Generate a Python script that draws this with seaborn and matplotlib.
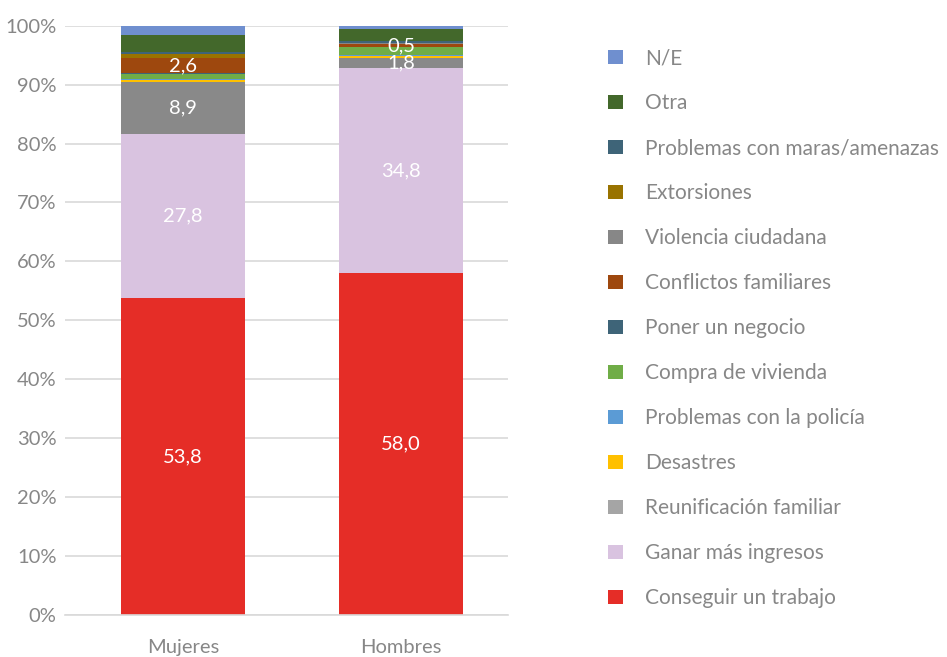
import numpy as np
import pandas as pd
import matplotlib
matplotlib.use('Agg')
import matplotlib.pyplot as plt
from matplotlib.patches import Patch
import seaborn as sns


# ── Data ──────────────────────────────────────────────────────────────────────

grupos = ['Mujeres', 'Hombres']

# series in stacking order (bottom -> top)
motivos = ['Conseguir un trabajo', 'Ganar más ingresos', 'Reunificación familiar',
           'Desastres', 'Problemas con la policía', 'Compra de vivienda',
           'Poner un negocio', 'Conflictos familiares', 'Violencia ciudadana',
           'Extorsiones', 'Problemas con maras/amenazas', 'Otra', 'N/E']

mujeres = [53.8, 27.8, 8.9, 0.3, 0.2, 0.8, 0.1, 2.6, 0.1, 0.6, 0.4, 2.8, 1.6]
hombres = [58.0, 34.8, 1.8, 0.2, 0.2, 1.3, 0.1, 0.5, 0.1, 0.0, 0.4, 2.0, 0.6]

# which segments carry a value label
etiquetados = ['Conseguir un trabajo', 'Ganar más ingresos',
               'Reunificación familiar', 'Conflictos familiares']

colores = ['#E52D27', '#D9C3E0', '#898989', '#FFC000', '#5B9BD5', '#70AD47',
           '#3E6478', '#9E480E', '#878787', '#997300', '#3E6478', '#43682B',
           '#6F8FCF']
colores_leyenda = list(colores)
colores_leyenda[2] = '#A5A5A5'

GRIS = '#878787'


# ── Figure ────────────────────────────────────────────────────────────────────

sns.set_style('white')
plt.rcParams['font.family'] = ['Lato', 'DejaVu Sans']

fig = plt.figure(figsize=(9.47, 6.57), dpi=100)
ax = fig.add_axes([0.0686, 0.0639, 0.4678, 0.897])

df = pd.DataFrame({'grupo': np.repeat(grupos, len(motivos)),
                   'motivo': motivos * 2,
                   'valor': mujeres + hombres})
df['acum'] = df.groupby('grupo')['valor'].cumsum()

# draw cumulative bars from the top series down so they overlap into a stack
for motivo, color in reversed(list(zip(motivos, colores))):
    capa = df[df['motivo'] == motivo]
    sns.barplot(data=capa, x='grupo', y='acum', order=grupos, color=color,
                saturation=1, width=0.569, errorbar=None, linewidth=0, ax=ax)

# value labels
for i, g in enumerate(grupos):
    sub = df[df['grupo'] == g]
    for _, r in sub.iterrows():
        if r['motivo'] in etiquetados:
            y = r['acum'] - r['valor'] / 2
            ax.text(i, y, f"{r['valor']:.1f}".replace('.', ','), color='white',
                    ha='center', va='center', fontsize=14.5, zorder=5)

ax.set_xlim(-0.541, 1.491)
ax.set_ylim(0, 100)
ax.set_yticks(np.arange(0, 101, 10))
ax.set_yticklabels([f'{v}%' for v in range(0, 101, 10)])
ax.yaxis.grid(True, color='#D9D9D9', linewidth=1.2)
ax.set_axisbelow(True)
for s in ['top', 'right', 'left']:
    ax.spines[s].set_visible(False)
ax.spines['bottom'].set_color('#D9D9D9')
ax.spines['bottom'].set_linewidth(1.2)
ax.tick_params(axis='both', length=0, labelsize=14.5, labelcolor=GRIS)
ax.tick_params(axis='y', pad=6)
ax.tick_params(axis='x', pad=17)
ax.set_xlabel('')
ax.set_ylabel('')

# legend (top entry = last series)
handles = [Patch(facecolor=c, edgecolor='none')
           for c in reversed(colores_leyenda)]
leg = fig.legend(handles, list(reversed(motivos)), loc='upper left',
                 bbox_to_anchor=(0.6335, 0.939), frameon=False, fontsize=15,
                 handlelength=0.7, handleheight=0.7, handletextpad=1.05,
                 labelspacing=1.2, borderaxespad=0)
for t in leg.get_texts():
    t.set_color(GRIS)

plt.savefig('out.png', dpi=100)
